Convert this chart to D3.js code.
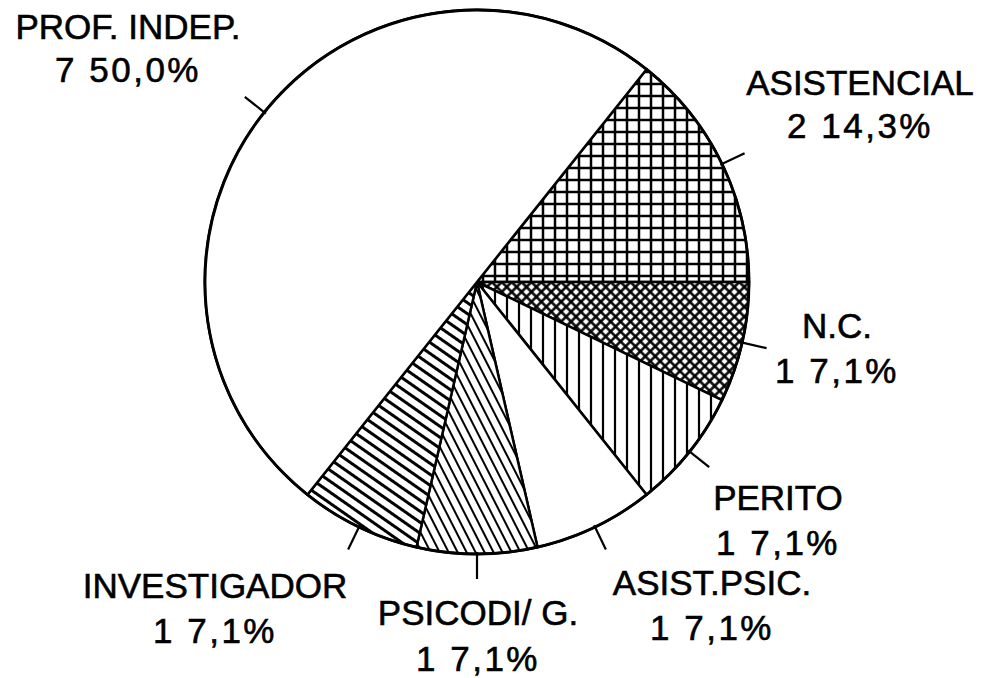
<!DOCTYPE html>
<html>
<head>
<meta charset="utf-8">
<script src="https://cdn.jsdelivr.net/npm/d3@7"></script>
<style>
  body { margin: 0; background: #fff; }
  text { font-family: "Liberation Sans", Arial, sans-serif; font-size: 35px; fill: #000; stroke: #000; stroke-width: 0.6px; }
  text.value { letter-spacing: 2.5px; }
</style>
</head>
<body>
<div id="chart"></div>
<script>
// data (clockwise, starting at the PROF. INDEP. / ASISTENCIAL border)
var categories = ["ASISTENCIAL", "N.C.", "PERITO", "ASIST.PSIC.", "PSICODI/ G.", "INVESTIGADOR", "PROF. INDEP."];
var counts = [2, 1, 1, 1, 1, 1, 7];
var percentLabels = ["14,3%", "7,1%", "7,1%", "7,1%", "7,1%", "7,1%", "50,0%"];

var svgWidth = 983;
var svgHeight = 678;
var cx = 477, cy = 282, radius = 272;

var svg = d3.select("#chart")
  .append("svg")
  .attr("width", svgWidth)
  .attr("height", svgHeight);

var defs = svg.append("defs");

// fill patterns, one per slice
function linePattern(id, size, angle, sw) {
  var p = defs.append("pattern")
    .attr("id", id)
    .attr("patternUnits", "userSpaceOnUse")
    .attr("width", size)
    .attr("height", size)
    .attr("patternTransform", "rotate(" + angle + ")");
  p.append("rect").attr("width", size).attr("height", size).attr("fill", "#fff");
  p.append("line")
    .attr("x1", size / 2).attr("y1", 0)
    .attr("x2", size / 2).attr("y2", size)
    .attr("stroke", "#000").attr("stroke-width", sw);
}

function gridPattern(id, size, angle, sw) {
  var p = defs.append("pattern")
    .attr("id", id)
    .attr("patternUnits", "userSpaceOnUse")
    .attr("width", size)
    .attr("height", size)
    .attr("patternTransform", "rotate(" + angle + ")");
  p.append("rect").attr("width", size).attr("height", size).attr("fill", "#fff");
  p.append("line").attr("x1", size / 2).attr("y1", 0).attr("x2", size / 2).attr("y2", size)
    .attr("stroke", "#000").attr("stroke-width", sw);
  p.append("line").attr("x1", 0).attr("y1", size / 2).attr("x2", size).attr("y2", size / 2)
    .attr("stroke", "#000").attr("stroke-width", sw);
}

gridPattern("p-grid", 12, 0, 2.5);
gridPattern("p-dense", 7, 45, 2.5);
linePattern("p-vert", 12, 0, 2.2);
linePattern("p-steep", 8, -27, 2);
linePattern("p-shallow", 9, -55, 3);

var fills = ["url(#p-grid)", "url(#p-dense)", "url(#p-vert)", "#fff", "url(#p-steep)", "url(#p-shallow)", "#fff"];

// where each two-line label sits: [center x, first baseline, second baseline]
var labelPos = {
  "ASISTENCIAL": [860, 95, 138],
  "N.C.": [837, 338, 383],
  "PERITO": [778, 510, 555],
  "ASIST.PSIC.": [712, 595, 640],
  "PSICODI/ G.": [478, 625, 671],
  "INVESTIGADOR": [215, 598, 643],
  "PROF. INDEP.": [128, 39, 82]
};

var total = d3.sum(counts);
var start = Math.PI / 2 - 2 * Math.PI * counts[0] / total;

var pie = d3.pie()
  .sort(null)
  .value(function(d) { return d; })
  .startAngle(start)
  .endAngle(start + 2 * Math.PI);

var arc = d3.arc().innerRadius(0).outerRadius(radius);

var slices = pie(counts);

var chartGroup = svg.append("g")
  .attr("transform", "translate(" + cx + "," + cy + ")");

chartGroup.selectAll("path.slice")
  .data(slices)
  .enter()
  .append("path")
  .attr("class", "slice")
  .attr("d", arc)
  .attr("fill", function(d, i) { return fills[i]; })
  .attr("stroke", "#000")
  .attr("stroke-width", 2.5)
  .attr("stroke-linejoin", "round");

chartGroup.append("circle")
  .attr("r", radius)
  .attr("fill", "none")
  .attr("stroke", "#000")
  .attr("stroke-width", 2.8);

// little leader ticks at each slice middle
function mid(d) { return (d.startAngle + d.endAngle) / 2; }

chartGroup.selectAll("line.tick")
  .data(slices)
  .enter()
  .append("line")
  .attr("class", "tick")
  .attr("x1", function(d) { return (radius - 2) * Math.sin(mid(d)); })
  .attr("y1", function(d) { return -(radius - 2) * Math.cos(mid(d)); })
  .attr("x2", function(d) { return (radius + 25) * Math.sin(mid(d)); })
  .attr("y2", function(d) { return -(radius + 25) * Math.cos(mid(d)); })
  .attr("stroke", "#000")
  .attr("stroke-width", 2.2);

// labels
var labels = svg.selectAll("g.label")
  .data(categories)
  .enter()
  .append("g")
  .attr("class", "label");

labels.append("text")
  .attr("x", function(d) { return labelPos[d][0]; })
  .attr("y", function(d) { return labelPos[d][1]; })
  .attr("text-anchor", "middle")
  .text(function(d) { return d; });

labels.append("text")
  .attr("class", "value")
  .attr("x", function(d) { return labelPos[d][0]; })
  .attr("y", function(d) { return labelPos[d][2]; })
  .attr("text-anchor", "middle")
  .text(function(d, i) { return counts[i] + " " + percentLabels[i]; });
</script>
</body>
</html>
